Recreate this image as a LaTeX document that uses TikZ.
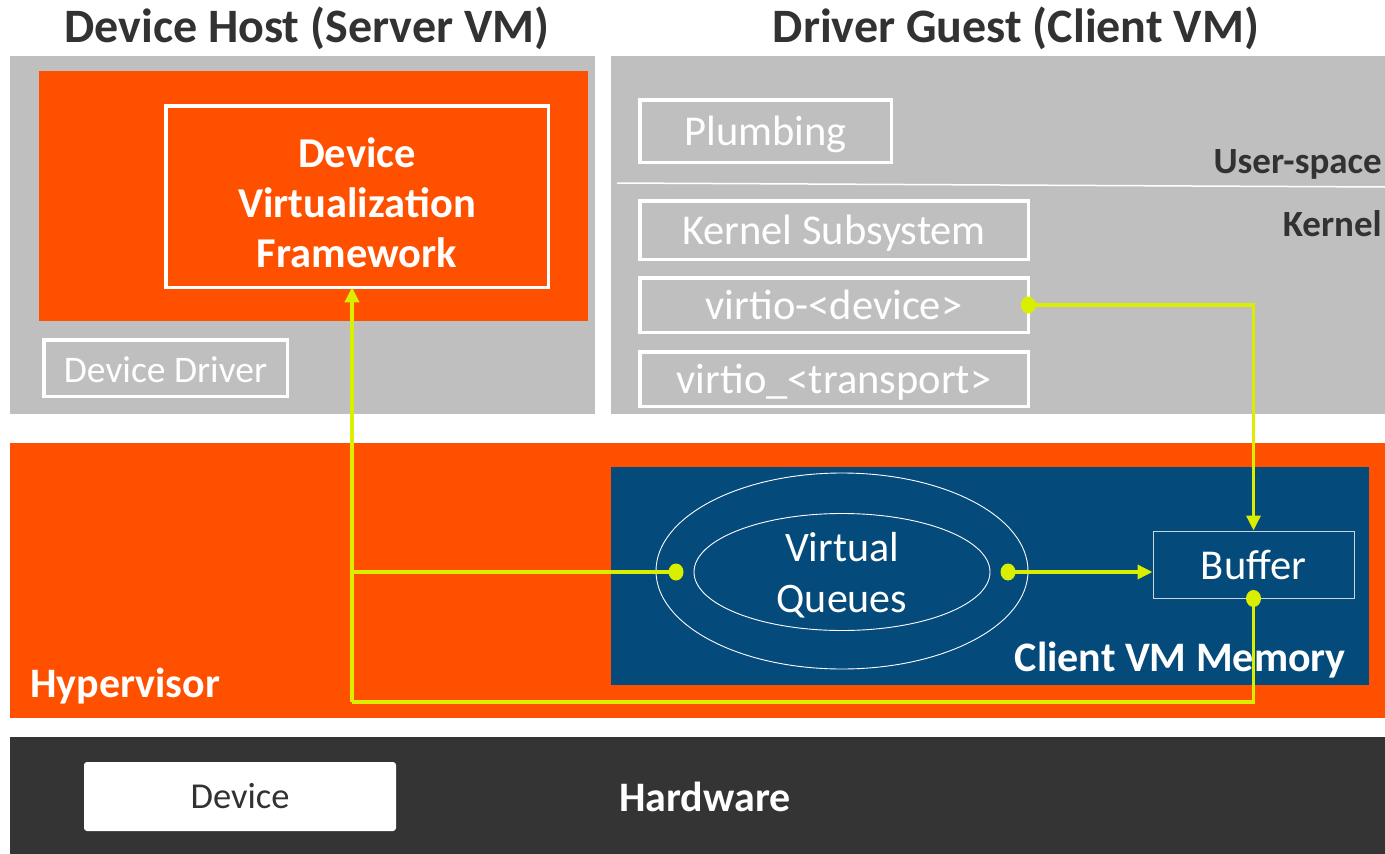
\documentclass[tikz,border=0pt]{standalone}
\usepackage{fontspec}
\setmainfont{Carlito}
\usetikzlibrary{shapes.geometric,arrows.meta}
\definecolor{panelgrey}{RGB}{191,191,191}
\definecolor{hvorange}{RGB}{255,80,0}
\definecolor{memblue}{RGB}{4,74,123}
\definecolor{hwdark}{RGB}{51,52,51}
\definecolor{titlegrey}{RGB}{50,50,50}
\definecolor{linkyellow}{RGB}{218,238,0}
\definecolor{bufedge}{RGB}{200,212,222}
\tikzset{
  region/.style={inner sep=0pt, outer sep=0pt, draw=none},
  wbox/.style={draw=white, line width=3.5pt, inner sep=0pt, outer sep=0pt, text=white,
    font=\fontsize{42.5}{50}\selectfont, text height=36pt, text depth=8pt},
  titletext/.style={text=titlegrey, font=\bfseries\fontsize{48}{56}\selectfont, inner sep=0pt},
  layerlabel/.style={text=white, font=\bfseries\fontsize{42}{50}\selectfont, inner sep=0pt},
  sidelabel/.style={text=titlegrey, font=\bfseries\fontsize{37}{44}\selectfont, inner sep=0pt, anchor=east},
  link/.style={draw=linkyellow, line width=3.5pt},
  arrowlink/.style={link, -{Triangle[length=15pt,width=14pt]}},
  dot/.style={ellipse, fill=linkyellow, inner sep=0pt, minimum width=15pt, minimum height=17pt},
  ring/.style={ellipse, draw=white, line width=0.9pt, inner sep=0pt}
}
\begin{document}
\begin{tikzpicture}[x=1pt,y=-1pt]
\useasboundingbox (0,0) rectangle (1385,854);
\fill[white] (0,0) rectangle (1385,854);

% titles
\node[titletext] (hosttitle) at (307,28) {Device Host (Server VM)};
\node[titletext] (guesttitle) at (1016,28) {Driver Guest (Client VM)};

% server VM panel
\node[region, fill=panelgrey, minimum width=585pt, minimum height=358pt] (hostpanel) at (302.5,235) {};
\node[region, fill=hvorange, minimum width=549pt, minimum height=250pt] (hostorange) at (313.5,196) {};
\node[wbox, minimum width=382.5pt, minimum height=181.5pt] (dvf) at (357,196.5) {};
\node[inner sep=0pt, text=white, font=\bfseries\fontsize{42.5}{50}\selectfont, align=center]
      (dvftext) at ([yshift=-6pt]dvf.center) {Device\\Virtualization\\Framework};
\node[wbox, font=\fontsize{37.5}{44}\selectfont, minimum width=243.5pt, minimum height=56.5pt] (drv) at (165.5,368) {Device Driver};

% client VM panel
\node[region, fill=panelgrey, minimum width=774pt, minimum height=358pt] (guestpanel) at (998,235) {};
\node[wbox, minimum width=251.5pt, minimum height=62.5pt] (plumb) at (765.5,131) {Plumbing};
\coordinate (sepl) at (617,183);
\coordinate (sepr) at (1385,187);
\draw[white, line width=1.5pt] (sepl) -- (sepr);
\node[sidelabel] (userspace) at (1382,164) {User-space};
\node[sidelabel] (kernel) at (1382,224) {Kernel};
\node[wbox, minimum width=388.5pt, minimum height=58.5pt] (ksub) at (834,230) {Kernel Subsystem};
\node[wbox, minimum width=388.5pt, minimum height=54.5pt] (vdev) at (834,305) {virtio-<device>};
\node[wbox, minimum width=388.5pt, minimum height=54.5pt] (vtrans) at (834,379) {virtio\_<transport>};

% hypervisor
\node[region, fill=hvorange, minimum width=1375pt, minimum height=275pt] (hyp) at (697.5,580.5) {};
\node[layerlabel, anchor=west] (hyplabel) at (30,686) {Hypervisor};
\node[region, fill=memblue, minimum width=758pt, minimum height=218pt] (mem) at (990,576) {};
\node[layerlabel, anchor=east] (memlabel) at (1346,660) {Client VM Memory};
\node[ring, minimum width=372pt, minimum height=196pt] (outerq) at (842,571) {};
\node[ring, minimum width=296pt, minimum height=117pt] (innerq) at (842,572) {};
\node[inner sep=0pt, text=white, align=center, font=\fontsize{42}{51}\selectfont]
      (qtext) at ([yshift=-3pt]innerq.center) {Virtual\\Queues};
\node[draw=bufedge, line width=1pt, inner sep=0pt, text=white, font=\fontsize{42.5}{50}\selectfont,
      minimum width=201pt, minimum height=67pt] (buffer) at (1253.5,564.5) {Buffer};

% hardware
\node[region, fill=hwdark, minimum width=1375pt, minimum height=117pt] (hw) at (697.5,795.5) {};
\node[region, fill=white, rounded corners=3pt, minimum width=312pt, minimum height=69pt,
      text=titlegrey, font=\fontsize{36.5}{42}\selectfont] (device) at (240,796.5) {Device};
\node[layerlabel] (hwlabel) at (705,797) {Hardware};

% connectors
\coordinate (qleft) at (676,572);
\coordinate (qright) at (1008,572);
\coordinate (loopc) at (352,702);
\draw[arrowlink] (vdev.east) -| (buffer.north);
\draw[arrowlink] (qright) -- (qright -| buffer.west);
\draw[link] (buffer.south) |- (loopc);
\draw[arrowlink] (loopc) -- (loopc |- dvf.south);
\draw[link] (qleft) -- (qleft -| loopc);
\node[dot] (dotdev) at (vdev.east) {};
\node[dot] (dotql) at (qleft) {};
\node[dot] (dotqr) at (qright) {};
\node[dot] (dotbuf) at (buffer.south) {};
\end{tikzpicture}
\end{document}
